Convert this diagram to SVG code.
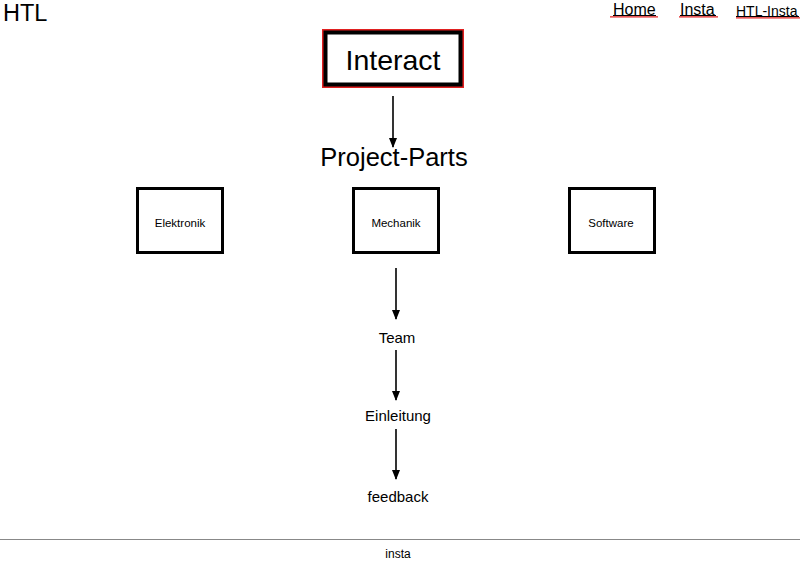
<svg xmlns="http://www.w3.org/2000/svg" width="800" height="566" viewBox="0 0 800 566">
<style>
text{font-family:"Liberation Sans",Arial,sans-serif;fill:#000}
.box{fill:#fff;stroke:#000;stroke-width:3}
.c{text-anchor:middle}
.conn line{stroke:#000;stroke-width:1.6}
</style>
<defs>
<marker id="arr" markerWidth="10" markerHeight="8" refX="9" refY="4" orient="auto" markerUnits="userSpaceOnUse" viewBox="0 0 10 8">
<path d="M0,0 L10,4 L0,8 Z" fill="#000"/>
</marker>
</defs>
<rect width="800" height="566" fill="#fff"/>
<g id="header">
<text x="3" y="21" font-size="23.5">HTL</text>
<text x="613" y="15" font-size="16">Home</text>
<line x1="613" y1="15.5" x2="656" y2="15.5" stroke="#000" stroke-width="1"/>
<line x1="610" y1="16.8" x2="658" y2="16.8" stroke="#e02020" stroke-width="1.2"/>
<text x="680" y="15" font-size="16">Insta</text>
<line x1="680" y1="15.5" x2="716" y2="15.5" stroke="#000" stroke-width="1"/>
<line x1="679" y1="16.8" x2="718" y2="16.8" stroke="#e02020" stroke-width="1.2"/>
<text x="736" y="16" font-size="14">HTL-Insta</text>
<line x1="736" y1="16.5" x2="799" y2="16.5" stroke="#000" stroke-width="1"/>
<line x1="736" y1="17.8" x2="800" y2="17.8" stroke="#e02020" stroke-width="1.2"/>
</g>
<g id="interact">
<rect x="322" y="29" width="142" height="59" fill="#e02020"/>
<rect x="325.5" y="32.5" width="135" height="52" fill="#fff" stroke="#000" stroke-width="4"/>
<text x="393" y="70" font-size="28.5" class="c">Interact</text>
</g>
<g id="project-parts">
<text x="394" y="166" font-size="25.5" class="c">Project-Parts</text>
</g>
<g id="elektronik">
<rect class="box" x="137.5" y="188.5" width="85" height="64"/>
<text x="180" y="227" font-size="11.5" class="c">Elektronik</text>
</g>
<g id="mechanik">
<rect class="box" x="353.5" y="188.5" width="85" height="64"/>
<text x="396" y="227" font-size="11.5" class="c">Mechanik</text>
</g>
<g id="software">
<rect class="box" x="569.5" y="188.5" width="85" height="64"/>
<text x="611" y="227" font-size="11.5" class="c">Software</text>
</g>
<g id="team"><text x="397" y="343" font-size="15" class="c">Team</text></g>
<g id="einleitung"><text x="398" y="421" font-size="15" class="c">Einleitung</text></g>
<g id="feedback"><text x="398" y="502" font-size="15" class="c">feedback</text></g>
<g id="footer">
<line x1="0" y1="539.5" x2="800" y2="539.5" stroke="#888" stroke-width="1"/>
<text x="398" y="558" font-size="12" class="c">insta</text>
</g>
<g class="conn" id="connectors">
<line x1="393" y1="96" x2="393" y2="147" marker-end="url(#arr)"/>
<line x1="396" y1="268" x2="396" y2="319" marker-end="url(#arr)"/>
<line x1="396" y1="350" x2="396" y2="400" marker-end="url(#arr)"/>
<line x1="396" y1="429" x2="396" y2="479" marker-end="url(#arr)"/>
</g>
</svg>
